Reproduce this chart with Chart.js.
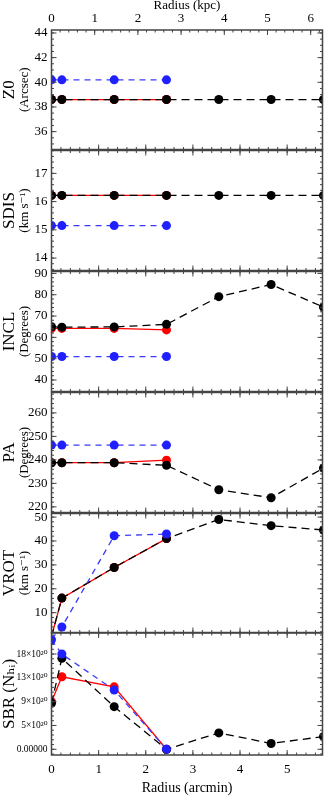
<!DOCTYPE html>
<html>
<head>
<meta charset="utf-8">
<title>Tilted ring parameters vs radius</title>
<script src="https://cdn.jsdelivr.net/npm/chart.js@4.4.1/dist/chart.umd.min.js"></script>
<style>
  body { margin: 0; background: #fff; }
  #wrap { position: relative; width: 327px; height: 798px; overflow: hidden; }
  #wrap canvas { position: absolute; left: 0; }
</style>
</head>
<body>
<div id="wrap"></div>
<script>
// ring radii (arcmin), shared by every panel
const RADII = [0, 0.22, 1.33, 2.44, 3.55, 4.66, 5.77];
const X_MAX = 5.75;
const KPC_PER_ARCMIN = 1.091;
const X_TICKS = [0, 1, 2, 3, 4, 5];
const KPC_TICKS = [0, 1, 2, 3, 4, 5, 6];

// black = all rings, red / blue = inner four rings only
const Z0_BLACK = [38.6, 38.6, 38.6, 38.6, 38.6, 38.6, 38.6];
const Z0_RED = [38.6, 38.6, 38.6, 38.6];
const Z0_BLUE = [40.2, 40.2, 40.2, 40.2];
const Z0_TICKS = [36, 38, 40, 42, 44];

const SDIS_BLACK = [16.22, 16.22, 16.22, 16.22, 16.22, 16.22, 16.22];
const SDIS_RED = [16.22, 16.22, 16.22, 16.22];
const SDIS_BLUE = [15.15, 15.15, 15.15, 15.15];
const SDIS_TICKS = [14, 15, 16, 17];

const INCL_BLACK = [65.0, 64.8, 64.9, 66.1, 79.1, 84.8, 74.2];
const INCL_RED = [64.2, 64.2, 64.2, 63.5];
const INCL_BLUE = [51.0, 51.0, 51.0, 51.0];
const INCL_TICKS = [40, 50, 60, 70, 80, 90];

const PA_BLACK = [238.8, 238.8, 238.8, 237.7, 227.3, 223.9, 236.5];
const PA_RED = [238.8, 238.8, 238.8, 239.9];
const PA_BLUE = [246.3, 246.3, 246.3, 246.3];
const PA_TICKS = [220, 230, 240, 250, 260];

const VROT_BLACK = [0, 16.1, 28.9, 41.0, 49.0, 46.4, 44.6];
const VROT_RED = [0, 16.1, 28.9, 41.0];
const VROT_BLUE = [-1.0, 4.0, 42.2, 42.9];
const VROT_TICKS = [10, 20, 30, 40, 50];

// SBR in units of 1e20
const SBR_BLACK = [8.7, 17.2, 8.05, 0, 3.1, 1.1, 2.4];
const SBR_RED = [9.0, 13.7, 11.8, 0];
const SBR_BLUE = [20.7, 18.0, 11.2, 0];
const SBR_TICKS = [0, 4.5, 9, 13.5, 18];
const SBR_TICK_LABELS = ['0.00000', '5×10²⁰', '9×10²⁰', '13×10²⁰', '18×10²⁰'];

const SERIF = '"Liberation Serif", "DejaVu Serif", serif';
Chart.defaults.font.family = SERIF;
Chart.defaults.color = '#000';

const PANELS = [
  { top: 30, bottom: 150, title: 'Z0', sub: '(Arcsec)', min: 34.55, max: 44.24, ticks: Z0_TICKS, minor: 0.5,
    black: Z0_BLACK, red: Z0_RED, blue: Z0_BLUE, first: true },
  { top: 150, bottom: 271, title: 'SDIS', sub: '(km s⁻¹)', min: 13.56, max: 17.81, ticks: SDIS_TICKS, minor: 0.2,
    black: SDIS_BLACK, red: SDIS_RED, blue: SDIS_BLUE },
  { top: 271, bottom: 392, title: 'INCL', sub: '(Degrees)', min: 34.6, max: 90.9, ticks: INCL_TICKS, minor: 2,
    black: INCL_BLACK, red: INCL_RED, blue: INCL_BLUE },
  { top: 392, bottom: 513, title: 'PA', sub: '(Degrees)', min: 217.6, max: 268.7, ticks: PA_TICKS, minor: 2,
    black: PA_BLACK, red: PA_RED, blue: PA_BLUE },
  { top: 513, bottom: 633, title: 'VROT', sub: '(km s⁻¹)', min: 1.7, max: 51.5, ticks: VROT_TICKS, minor: 2,
    black: VROT_BLACK, red: VROT_RED, blue: VROT_BLUE, blueClip: { left: 0, top: 0, right: 0, bottom: 10 } },
  { top: 633, bottom: 755, title: 'SBR (Nₕᵢ)', sub: null, min: -1.08, max: 21.97, ticks: SBR_TICKS, minor: 0.9,
    labels: SBR_TICK_LABELS, tickSize: 9.5, black: SBR_BLACK, red: SBR_RED, blue: SBR_BLUE, last: true }
];

function multiples(min, max, step) {
  const out = [];
  for (let v = Math.ceil(min / step - 1e-9) * step; v <= max + 1e-9; v += step) out.push(v);
  return out;
}

// closed frame with inward major/minor ticks on all four sides
const frameTicks = {
  id: 'frameTicks',
  afterDatasetsDraw(chart, args, o) {
    const { ctx, chartArea: a } = chart;
    const x = chart.scales.x, y = chart.scales.y, k = chart.scales.kpc;
    ctx.save();
    ctx.strokeStyle = '#444';
    ctx.lineWidth = 1;
    ctx.beginPath();
    const hTick = (v, len) => {
      const p = y.getPixelForValue(v);
      ctx.moveTo(a.left, p); ctx.lineTo(a.left + len, p);
      ctx.moveTo(a.right, p); ctx.lineTo(a.right - len, p);
    };
    const vTick = (scale, v, len, edge, dir) => {
      const p = scale.getPixelForValue(v);
      ctx.moveTo(p, edge); ctx.lineTo(p, edge + dir * len);
    };
    multiples(y.min, y.max, o.yMinor).forEach(v => hTick(v, 2.5));
    o.yMajor.forEach(v => hTick(v, 5));
    const ts = k || x;
    multiples(ts.min, ts.max, 0.2).forEach(v => vTick(ts, v, 2.5, a.top, 1));
    (k ? KPC_TICKS : X_TICKS).forEach(v => vTick(ts, v, 5, a.top, 1));
    multiples(x.min, x.max, 0.2).forEach(v => vTick(x, v, 2.5, a.bottom, -1));
    X_TICKS.forEach(v => vTick(x, v, 5, a.bottom, -1));
    ctx.stroke();
    ctx.lineWidth = 1.5;
    ctx.strokeRect(a.left, a.top, a.right - a.left, a.bottom - a.top);
    ctx.restore();
  }
};

const wrap = document.getElementById('wrap');
const pts = ys => ys.map((v, i) => ({ x: RADII[i], y: v }));
const noGrid = { display: false, drawTicks: false };

function makePanel(p) {
  const padTop = p.first ? 0 : 10, padBottom = p.last ? 0 : 10;
  const axisTop = p.first ? 30 : 0, axisBottom = p.last ? 43 : 0;
  const canvas = document.createElement('canvas');
  canvas.width = 327;
  canvas.height = (p.bottom - p.top) + padTop + padBottom + axisTop + axisBottom;
  canvas.style.top = (p.top - padTop - axisTop) + 'px';
  wrap.appendChild(canvas);

  // title column centred near x=9, unit column near x=25; both boxes kept narrow
  // so the tick-label box (which clips its labels) can stay wide
  const TITLE_LH = 18.7, TITLE_BOX = 12;
  const yWidth = 51.5 - TITLE_BOX;

  const scales = {
    x: {
      type: 'linear', position: 'bottom', min: 0, max: X_MAX,
      display: !!p.last,
      grid: noGrid, border: { display: false },
      afterBuildTicks: s => { s.ticks = X_TICKS.map(v => ({ value: v })); },
      afterFit: s => { s.height = axisBottom; },
      ticks: { padding: 8.5, font: { size: 13, lineHeight: 1 }, maxRotation: 0, autoSkip: false },
      title: { display: true, text: 'Radius (arcmin)', font: { size: 14, lineHeight: 1 }, padding: { top: 0, bottom: 2.7 } }
    },
    y: {
      type: 'linear', position: 'left', min: p.min, max: p.max,
      grid: noGrid, border: { display: false },
      afterBuildTicks: s => { s.ticks = p.ticks.map(v => ({ value: v })); },
      afterFit: s => { s.width = yWidth; },
      ticks: {
        padding: 4, autoSkip: false,
        font: { size: p.tickSize || 13, lineHeight: 1 },
        callback: (v, i) => p.labels ? p.labels[i] : String(v)
      }
    }
  };
  if (p.first) {
    scales.kpc = {
      type: 'linear', axis: 'x', position: 'top', min: 0, max: X_MAX * KPC_PER_ARCMIN,
      grid: noGrid, border: { display: false },
      afterBuildTicks: s => { s.ticks = KPC_TICKS.map(v => ({ value: v })); },
      afterFit: s => { s.height = axisTop; },
      ticks: { padding: 4.5, font: { size: 13, lineHeight: 1 }, maxRotation: 0, autoSkip: false },
      title: { display: true, text: 'Radius (kpc)', font: { size: 13, lineHeight: 1 }, padding: { top: -1, bottom: 0 } }
    };
  }

  const common = { borderWidth: 1.3, pointRadius: 4.5, pointHoverRadius: 4.5, pointBorderWidth: 0, showLine: true };
  new Chart(canvas, {
    type: 'scatter',
    data: {
      datasets: [
        { ...common, label: 'blue', data: pts(p.blue), borderColor: '#3a3aff', backgroundColor: '#2020ff',
          borderDash: [6, 5], clip: p.blueClip || 0 },
        { ...common, label: 'black', data: pts(p.black), borderColor: '#000', backgroundColor: '#000',
          borderDash: [8, 5], clip: 0 },
        { ...common, label: 'red', data: pts(p.red), borderColor: '#ff0000', backgroundColor: '#ff0000', clip: 0 }
      ]
    },
    options: {
      responsive: false,
      animation: false,
      events: [],
      layout: { padding: { left: 0, right: 2, top: padTop, bottom: padBottom } },
      scales,
      plugins: {
        legend: { display: false },
        tooltip: { enabled: false },
        title: { display: true, position: 'left', fullSize: false, text: p.title,
                 font: { size: 17, lineHeight: 1.1, weight: 'normal' },
                 padding: { top: 0, bottom: TITLE_BOX - TITLE_LH } },
        subtitle: { display: !!p.sub, position: 'left', fullSize: false, text: p.sub || '',
                    font: { size: 13, lineHeight: 1 },
                    padding: { top: 25 - TITLE_BOX - 6.5, bottom: -(25 - TITLE_BOX - 6.5) - 13 } },
        frameTicks: { yMajor: p.ticks, yMinor: p.minor }
      }
    },
    plugins: [frameTicks]
  });
}

PANELS.forEach(makePanel);
</script>
</body>
</html>
